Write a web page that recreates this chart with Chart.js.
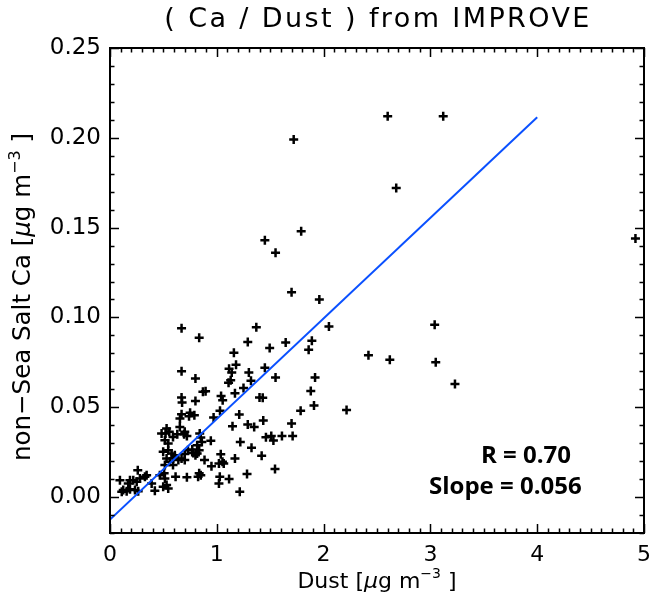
<!DOCTYPE html>
<html>
<head>
<meta charset="utf-8">
<script src="https://cdn.jsdelivr.net/npm/chart.js@4"></script>
<style>
  html, body { margin: 0; padding: 0; background: #fff; }
  #wrap { width: 653px; height: 605px; }
</style>
</head>
<body>
<div id="wrap"><canvas id="c" width="653" height="605"></canvas></div>
<script>
// ---- data ----
const dust = [
  1.72, 2.60, 3.12, 2.68, 4.92, 1.79, 1.45, 1.55, 1.70, 1.96,
  2.05, 3.04, 2.42, 2.62, 3.05, 3.23, 2.215, 1.645, 1.89, 1.86,
  1.495, 1.55, 1.92, 1.88, 1.91, 1.785, 1.70, 1.435, 1.40, 1.43,
  1.46, 1.51, 1.53, 1.61, 1.71, 1.42, 1.545, 0.67, 0.835, 1.37,
  1.29, 1.16, 0.67, 0.80, 1.18, 1.115, 1.14, 1.30, 1.45, 1.32,
  1.11, 1.13, 1.25, 1.17, 1.04, 1.055, 0.87, 0.895, 0.67, 0.675,
  0.80, 1.03, 0.67, 0.655, 0.75, 0.74, 0.79, 0.97, 1.21, 1.147,
  1.29, 1.35, 1.325, 1.22, 0.944, 0.84, 0.85, 0.86, 0.816, 0.835,
  0.53, 0.555, 0.52, 0.514, 0.545, 0.59, 0.654, 0.694, 0.70, 0.483,
  0.498, 0.545, 0.577, 0.607, 0.59, 0.56, 0.53, 0.64, 0.514, 0.59,
  0.67, 0.70, 0.77, 0.78, 0.816, 0.80, 0.885, 0.95, 1.037, 1.053,
  1.02, 1.065, 1.17, 1.215, 1.283, 1.115, 1.028, 1.02, 0.835, 0.85,
  0.825, 0.72, 0.614, 0.514, 0.53, 0.545, 0.498, 0.467, 0.507, 0.42,
  0.39, 0.26, 0.343, 0.327, 0.28, 0.25, 0.218, 0.187, 0.171, 0.093,
  0.124, 0.156, 0.187, 0.234, 0.264, 0.11, 0.63, 0.72, 0.70, 0.73
];
const calcium = [
  0.199, 0.212, 0.212, 0.172, 0.144, 0.148, 0.143, 0.136, 0.114, 0.110,
  0.095, 0.096, 0.079, 0.0765, 0.075, 0.063, 0.0485, 0.086, 0.087, 0.082,
  0.083, 0.0665, 0.0665, 0.059, 0.051, 0.048, 0.041, 0.0426, 0.0555, 0.0553,
  0.0333, 0.034, 0.0315, 0.034, 0.034, 0.023, 0.0156, 0.094, 0.0887, 0.0946,
  0.0863, 0.0804, 0.070, 0.066, 0.0737, 0.0715, 0.0693, 0.0693, 0.072, 0.0648,
  0.0637, 0.065, 0.0607, 0.0578, 0.0563, 0.0539, 0.0587, 0.0589, 0.0554, 0.0526,
  0.0535, 0.048, 0.0461, 0.0437, 0.047, 0.045, 0.0456, 0.0443, 0.046, 0.0394,
  0.0404, 0.039, 0.0274, 0.0307, 0.0313, 0.0354, 0.0332, 0.0307, 0.0289, 0.0261,
  0.0382, 0.0363, 0.0354, 0.0317, 0.0298, 0.0335, 0.039, 0.035, 0.0363, 0.0354,
  0.0252, 0.0261, 0.0243, 0.0233, 0.0215, 0.0196, 0.0215, 0.0206, 0.0178, 0.0178,
  0.0215, 0.0206, 0.0265, 0.0246, 0.0243, 0.0233, 0.0206, 0.0172, 0.0239, 0.0196,
  0.0187, 0.0187, 0.0215, 0.0029, 0.0128, 0.010, 0.0113, 0.0076, 0.0132, 0.0122,
  0.0113, 0.011, 0.0113, 0.0104, 0.0067, 0.0048, 0.0057, 0.0122, 0.0132, 0.0035,
  0.0076, 0.015, 0.0122, 0.0113, 0.0104, 0.0085, 0.0094, 0.0094, 0.0076, 0.0094,
  0.0039, 0.0033, 0.0043, 0.0039, 0.0033, 0.0029, 0.035, 0.034, 0.024, 0.026
];
const fitX = [0, 4];
const fitY = [-0.0125, 0.2115];
const xTickValues = [0, 1, 2, 3, 4, 5];
const yTickValues = [0.00, 0.05, 0.10, 0.15, 0.20, 0.25];
const titleText = "( Ca / Dust ) from IMPROVE";
const statsLines = ["R = 0.70", "Slope = 0.056"];

// ---- chart ----
const scatterData = dust.map((d, i) => ({ x: d, y: calcium[i] }));
const fitData = fitX.map((d, i) => ({ x: d, y: fitY[i] }));

function drawRich(ctx, segs, cx, cy) {
  let total = 0;
  segs.forEach(s => { ctx.font = s.font; s.w = ctx.measureText(s.t).width; total += s.w; });
  let x = cx - total / 2;
  ctx.textAlign = 'left';
  ctx.textBaseline = 'middle';
  segs.forEach(s => { ctx.font = s.font; ctx.fillText(s.t, x, cy + (s.dy || 0)); x += s.w; });
}

const decor = {
  id: 'decor',
  afterDatasetsDraw(chart) {
    const ctx = chart.ctx;
    const a = chart.chartArea;
    const xs = chart.scales.x, ys = chart.scales.y;
    ctx.save();
    ctx.strokeStyle = '#000';
    ctx.fillStyle = '#000';
    ctx.lineWidth = 2;
    ctx.strokeRect(a.left, a.top, a.right - a.left, a.bottom - a.top);
    ctx.lineWidth = 1.5;
    for (let i = 0; i <= 50; i++) {
      const v = i / 10;
      const px = Math.round(xs.getPixelForValue(v)) + 0.5;
      const len = (i % 10 === 0) ? 9 : 4.5;
      ctx.beginPath();
      ctx.moveTo(px, a.bottom); ctx.lineTo(px, a.bottom - len);
      ctx.moveTo(px, a.top); ctx.lineTo(px, a.top + len);
      ctx.stroke();
    }
    for (let i = -2; i <= 25; i++) {
      const v = i / 100;
      const py = Math.round(ys.getPixelForValue(v)) + 0.5;
      const len = (i % 5 === 0) ? 9 : 4.5;
      ctx.beginPath();
      ctx.moveTo(a.left, py); ctx.lineTo(a.left + len, py);
      ctx.moveTo(a.right, py); ctx.lineTo(a.right - len, py);
      ctx.stroke();
    }
    // title
    ctx.font = '27px "DejaVu Sans"';
    ctx.letterSpacing = '2.4px';
    ctx.textAlign = 'center';
    ctx.textBaseline = 'middle';
    ctx.fillText(titleText, (a.left + a.right) / 2 + 1, 20);
    ctx.letterSpacing = '0px';
    // x title
    const f = 22;
    drawRich(ctx, [
      { t: 'Dust [', font: f + 'px "DejaVu Sans"' },
      { t: '\u03bc', font: 'italic ' + f + 'px "DejaVu Sans"' },
      { t: 'g m', font: f + 'px "DejaVu Sans"' },
      { t: '\u22123', font: Math.round(f * 0.65) + 'px "DejaVu Sans"', dy: -f * 0.35 },
      { t: ' ]', font: f + 'px "DejaVu Sans"' }
    ], (a.left + a.right) / 2, 582);
    // y title
    ctx.save();
    ctx.translate(24, 297);
    ctx.rotate(-Math.PI / 2);
    const g = 24.5;
    drawRich(ctx, [
      { t: 'non\u2212Sea Salt Ca [', font: g + 'px "DejaVu Sans"' },
      { t: '\u03bc', font: 'italic ' + g + 'px "DejaVu Sans"' },
      { t: 'g m', font: g + 'px "DejaVu Sans"' },
      { t: '\u22123', font: Math.round(g * 0.65) + 'px "DejaVu Sans"', dy: -g * 0.35 },
      { t: ' ]', font: g + 'px "DejaVu Sans"' }
    ], 0, 0);
    ctx.restore();
    // stats
    ctx.font = 'bold 24px "Open Sans"';
    ctx.textAlign = 'left';
    ctx.textBaseline = 'alphabetic';
    ctx.fillText(statsLines[0], 481, 463);
    ctx.fillText(statsLines[1], 429, 494);
    ctx.restore();
  }
};

new Chart(document.getElementById('c'), {
  data: {
    datasets: [
      {
        type: 'scatter',
        data: scatterData,
        pointStyle: 'cross',
        pointRadius: 4.5,
        pointHoverRadius: 4.5,
        borderColor: '#000',
        backgroundColor: '#000',
        pointBorderWidth: 2.5,
        order: 2
      },
      {
        type: 'line',
        data: fitData,
        borderColor: '#0a50ff',
        borderWidth: 2,
        pointRadius: 0,
        fill: false,
        tension: 0,
        order: 1
      }
    ]
  },
  options: {
    responsive: false,
    animation: false,
    events: [],
    layout: { padding: { top: 48, right: 9, left: 0, bottom: 0 } },
    plugins: { legend: { display: false }, title: { display: false }, tooltip: { enabled: false } },
    scales: {
      x: {
        type: 'linear', min: 0, max: 5,
        grid: { display: false, drawTicks: false },
        border: { display: false },
        afterBuildTicks: s => { s.ticks = xTickValues.map(v => ({ value: v })); },
        afterFit: s => { s.height = 72; s.paddingRight = 0; s.paddingLeft = 0; },
        ticks: {
          color: '#000', font: { family: 'DejaVu Sans', size: 22 },
          padding: 9, autoSkip: false, maxRotation: 0,
          callback: v => String(v)
        }
      },
      y: {
        type: 'linear', min: -0.02, max: 0.25,
        grid: { display: false, drawTicks: false },
        border: { display: false },
        afterBuildTicks: s => { s.ticks = yTickValues.map(v => ({ value: v })); },
        afterFit: s => { s.width = 110; s.paddingTop = 0; s.paddingBottom = 0; },
        ticks: {
          color: '#000', font: { family: 'DejaVu Sans', size: 23 },
          padding: 9, autoSkip: false,
          callback: v => Number(v).toFixed(2)
        }
      }
    }
  },
  plugins: [decor]
});
</script>
</body>
</html>
